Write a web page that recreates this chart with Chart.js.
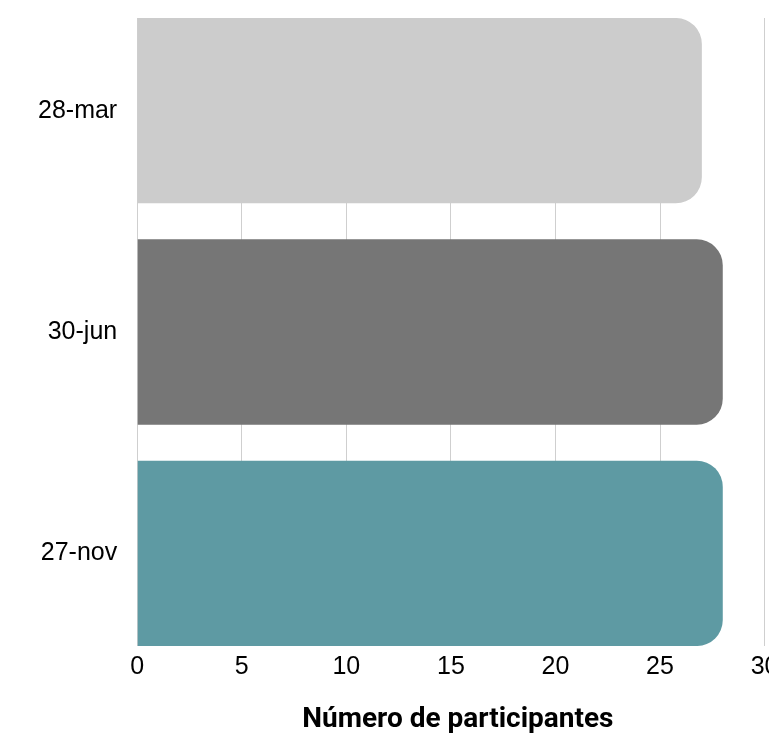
<!DOCTYPE html>
<html>
<head>
<meta charset="utf-8">
<script src="https://cdn.jsdelivr.net/npm/chart.js@4"></script>
<style>
  html, body { margin: 0; padding: 0; overflow: hidden; background: #fff; }
  #wrap { width: 785px; height: 737px; }
</style>
</head>
<body>
<div id="wrap"><canvas id="myChart"></canvas></div>
<script>
const categories = ['28-mar', '30-jun', '27-nov'];
const participants = [27, 28, 28];
const xTickValues = [0, 5, 10, 15, 20, 25, 30];
const axisTitle = 'Número de participantes';

const barColors = ['#cccccc', '#767676', '#5e9aa3'];

const ctx = document.getElementById('myChart');

let chart = new Chart(ctx, {
  type: 'bar',
  data: {
    datasets: [{
      data: participants.map((v, i) => ({ x: v, y: i })),
      backgroundColor: barColors,
      borderRadius: 26,
      borderSkipped: 'start',
      barPercentage: 0.8375,
      categoryPercentage: 1
    }]
  },
  options: {
    indexAxis: 'y',
    animation: false,
    responsive: true,
    maintainAspectRatio: false,
    layout: { padding: { top: 18, left: 18, right: 0, bottom: 0 } },
    plugins: {
      legend: { display: false },
      tooltip: { enabled: false }
    },
    scales: {
      x: {
        type: 'linear',
        min: xTickValues[0],
        max: xTickValues[xTickValues.length - 1],
        afterBuildTicks: (s) => { s.ticks = xTickValues.map(v => ({ value: v })); },
        grid: { color: '#cfcfcf', lineWidth: 1, drawTicks: false },
        border: { display: false },
        ticks: {
          color: '#000',
          padding: 6.5,
          font: { family: '"Liberation Sans", Arial, sans-serif', size: 25 }
        },
        title: {
          display: true,
          // two no-break spaces nudge the title right like the original
          text: '\u00a0\u00a0' + axisTitle,
          color: '#000',
          padding: { top: 14.4, bottom: 0 },
          font: { family: 'Roboto, sans-serif', size: 28, weight: 'bold' }
        }
      },
      y: {
        type: 'linear',
        reverse: true,
        offset: false,
        min: -0.4187,
        max: 2.4187,
        afterBuildTicks: (s) => { s.ticks = categories.map((c, i) => ({ value: i })); },
        afterFit: (s) => { s.paddingTop = 0; s.paddingBottom = 0; },
        grid: { display: false, drawTicks: false },
        border: { display: false },
        ticks: {
          color: '#000',
          padding: 20,
          callback: (v) => categories[v],
          font: { family: '"Liberation Sans", Arial, sans-serif', size: 25 }
        }
      }
    }
  }
});
</script>
</body>
</html>
